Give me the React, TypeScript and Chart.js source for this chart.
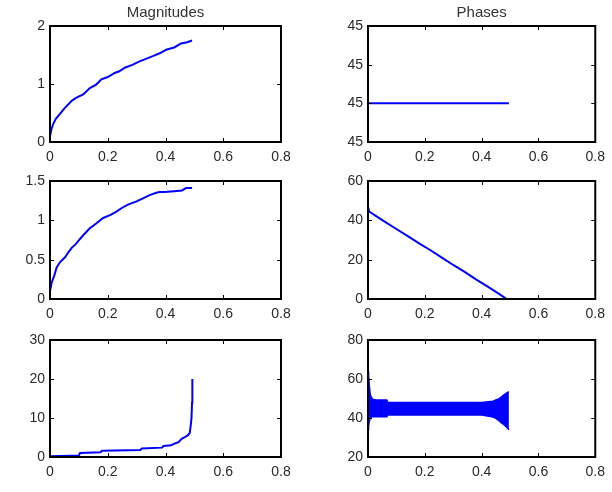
import React, { useEffect, useRef } from "react";
import { Chart, registerables } from "chart.js";

Chart.register(...registerables);

// ---------- data ----------
const X_TICKS = [0, 0.2, 0.4, 0.6, 0.8];
const X_LABELS = ["0", "0.2", "0.4", "0.6", "0.8"];

// Magnitudes, row 1
const MAG1_X = [0, 0.005, 0.011, 0.02, 0.034, 0.05, 0.075, 0.09, 0.115, 0.138, 0.16, 0.178, 0.2, 0.224, 0.24, 0.259, 0.285, 0.31, 0.33, 0.356, 0.38, 0.402, 0.43, 0.454, 0.475, 0.492];
const MAG1_Y = [0.1, 0.22, 0.31, 0.4, 0.48, 0.58, 0.71, 0.76, 0.82, 0.93, 0.99, 1.08, 1.12, 1.19, 1.22, 1.28, 1.33, 1.39, 1.43, 1.48, 1.53, 1.59, 1.63, 1.7, 1.72, 1.75];
const MAG1_YTICKS = [0, 1, 2];
const MAG1_YLABELS = ["0", "1", "2"];

// Magnitudes, row 2
const MAG2_X = [0, 0.006, 0.015, 0.023, 0.035, 0.052, 0.065, 0.075, 0.09, 0.103, 0.12, 0.138, 0.16, 0.184, 0.21, 0.23, 0.25, 0.27, 0.3, 0.322, 0.345, 0.368, 0.38, 0.397, 0.43, 0.457, 0.471, 0.492];
const MAG2_Y = [0.1, 0.21, 0.3, 0.4, 0.47, 0.53, 0.6, 0.65, 0.7, 0.76, 0.83, 0.9, 0.96, 1.03, 1.07, 1.11, 1.16, 1.2, 1.24, 1.28, 1.32, 1.35, 1.36, 1.36, 1.37, 1.38, 1.41, 1.41];
const MAG2_YTICKS = [0, 0.5, 1, 1.5];
const MAG2_YLABELS = ["0", "0.5", "1", "1.5"];

// Magnitudes, row 3
const MAG3_X = [0, 0.1, 0.104, 0.175, 0.18, 0.313, 0.318, 0.388, 0.393, 0.42, 0.43, 0.445, 0.455, 0.465, 0.478, 0.484, 0.488, 0.49, 0.492, 0.493];
const MAG3_Y = [0.2, 0.4, 1.0, 1.2, 1.6, 1.8, 2.2, 2.4, 2.8, 3.0, 3.4, 3.8, 4.6, 5.0, 5.6, 6.2, 8.5, 10, 14, 20];
const MAG3_YTICKS = [0, 10, 20, 30];
const MAG3_YLABELS = ["0", "10", "20", "30"];

// Phases, row 1
const PH1_X = [0, 0.496];
const PH1_Y = [45, 45];
const PH1_YTICKS = [44.999, 45, 45.001, 45.002];
const PH1_YLABELS = ["45", "45", "45", "45"];

// Phases, row 2
const PH2_X = [0, 0.004, 0.03, 0.06, 0.1, 0.14, 0.18, 0.22, 0.26, 0.3, 0.34, 0.38, 0.42, 0.46, 0.488];
const PH2_Y = [47, 44.5, 42, 39.2, 35.6, 32.0, 28.3, 24.8, 21.0, 17.3, 13.8, 10.0, 6.4, 2.7, 0];
const PH2_YTICKS = [0, 20, 40, 60];
const PH2_YLABELS = ["0", "20", "40", "60"];

// Phases, row 3 (oscillating band: upper and lower envelopes)
const PH3_X = [0, 0.002, 0.005, 0.008, 0.012, 0.018, 0.03, 0.066, 0.07, 0.2, 0.3, 0.4, 0.44, 0.45, 0.46, 0.47, 0.48, 0.49, 0.496];
const PH3_HI = [64, 62, 56, 52, 50.5, 49.5, 49.2, 49.2, 48, 48, 48, 48, 48.6, 49.2, 49.8, 50.8, 52, 53, 53.5];
const PH3_LO = [34, 36, 38.5, 40, 40.5, 40.7, 40.7, 40.7, 41.5, 41.5, 41.5, 41.5, 40.5, 39.8, 38.8, 37.5, 36.4, 35, 34];
const PH3_YTICKS = [20, 40, 60, 80];
const PH3_YLABELS = ["20", "40", "60", "80"];

const TITLES = ["Magnitudes", "Phases"];

// ---------- helpers ----------
const BLUE = "#0000ff";
const FONT = "'Liberation Sans', Arial, Helvetica, sans-serif";
const LABEL_COLOR = "#2a2a2a";

const pts = (xs: number[], ys: number[]) => xs.map((x, i) => ({ x, y: ys[i] }));

const boxPlugin = {
  id: "matlabBox",
  afterDraw(chart: any, _args: any, opts: any) {
    const { ctx, chartArea } = chart;
    const { left, right, top, bottom } = chartArea;
    const xs = chart.scales.x;
    const ys = chart.scales.y;
    ctx.save();
    ctx.strokeStyle = "#000";
    ctx.lineWidth = 1;
    const tl = 4;
    ctx.beginPath();
    for (const t of xs.ticks) {
      const p = Math.round(xs.getPixelForValue(t.value)) + 0.5;
      ctx.moveTo(p, bottom);
      ctx.lineTo(p, bottom - tl);
      ctx.moveTo(p, top);
      ctx.lineTo(p, top + tl);
    }
    for (const t of ys.ticks) {
      const p = Math.round(ys.getPixelForValue(t.value)) + 0.5;
      ctx.moveTo(left, p);
      ctx.lineTo(left + tl, p);
      ctx.moveTo(right, p);
      ctx.lineTo(right - tl, p);
    }
    ctx.stroke();
    ctx.lineWidth = 2;
    ctx.strokeRect(left, top, right - left, bottom - top);
    if (opts && opts.title) {
      ctx.fillStyle = "#333";
      ctx.font = `15px ${FONT}`;
      ctx.textAlign = "center";
      ctx.textBaseline = "middle";
      ctx.fillText(opts.title, (left + right) / 2, top - 13);
    }
    ctx.restore();
  },
};

type SubProps = {
  left: number;
  top: number;
  width: number;
  height: number;
  padTop: number;
  padRight: number;
  yWidth: number;
  xHeight: number;
  datasets: any[];
  yMin: number;
  yMax: number;
  yTicks: number[];
  yLabels: string[];
  title?: string;
};

function Subplot(p: SubProps) {
  const ref = useRef<HTMLCanvasElement | null>(null);
  useEffect(() => {
    if (!ref.current) return;
    const font = { family: FONT, size: 14 };
    const chart = new Chart(ref.current, {
      type: "line",
      data: { datasets: p.datasets },
      plugins: [boxPlugin],
      options: {
        animation: false,
        responsive: false,
        devicePixelRatio: 1,
        layout: { padding: { top: p.padTop, right: p.padRight, left: 0, bottom: 0 } },
        plugins: {
          legend: { display: false },
          tooltip: { enabled: false },
          title: { display: false },
          matlabBox: { title: p.title },
        } as any,
        elements: { point: { radius: 0 }, line: { tension: 0 } },
        scales: {
          x: {
            type: "linear",
            min: 0,
            max: 0.8,
            afterBuildTicks: (s: any) => {
              s.ticks = X_TICKS.map((v) => ({ value: v }));
            },
            afterFit: (s: any) => {
              s.height = p.xHeight;
            },
            ticks: {
              font,
              color: LABEL_COLOR,
              padding: 7,
              maxRotation: 0,
              autoSkip: false,
              callback: (_v: any, i: number) => X_LABELS[i],
            },
            grid: { display: false, drawTicks: false },
            border: { display: false },
          },
          y: {
            type: "linear",
            min: p.yMin,
            max: p.yMax,
            afterBuildTicks: (s: any) => {
              s.ticks = p.yTicks.map((v) => ({ value: v }));
            },
            afterFit: (s: any) => {
              s.width = p.yWidth;
            },
            ticks: {
              font,
              color: LABEL_COLOR,
              padding: 5,
              autoSkip: false,
              callback: (_v: any, i: number) => p.yLabels[i],
            },
            grid: { display: false, drawTicks: false },
            border: { display: false },
          },
        },
      } as any,
    });
    return () => chart.destroy();
  }, []);
  return (
    <canvas
      ref={ref}
      width={p.width}
      height={p.height}
      style={{ position: "absolute", left: p.left, top: p.top, width: p.width, height: p.height, display: "block" }}
    />
  );
}

const line = (xs: number[], ys: number[]) => ({
  data: pts(xs, ys),
  borderColor: BLUE,
  borderWidth: 2,
  fill: false,
  pointRadius: 0,
});

export default function App() {
  const rows = [
    { top: 0, height: 165, padTop: 26, xHeight: 23 },
    { top: 165, height: 160, padTop: 16, xHeight: 26 },
    { top: 325, height: 167, padTop: 15, xHeight: 35 },
  ];
  const leftCol = { left: 0, width: 300, yWidth: 50, padRight: 19 };
  const rightCol = { left: 300, width: 312, yWidth: 68, padRight: 14 };

  const band = [
    { data: pts(PH3_X, PH3_LO), borderColor: BLUE, borderWidth: 1.5, fill: false, pointRadius: 0 },
    { data: pts(PH3_X, PH3_HI), borderColor: BLUE, borderWidth: 1.5, backgroundColor: BLUE, fill: "-1", pointRadius: 0 },
  ];

  return (
    <div style={{ position: "absolute", left: 0, top: 0, width: 612, height: 492, background: "#fff" }}>
      <Subplot {...leftCol} {...rows[0]} title={TITLES[0]} datasets={[line(MAG1_X, MAG1_Y)]} yMin={0} yMax={2} yTicks={MAG1_YTICKS} yLabels={MAG1_YLABELS} />
      <Subplot {...rightCol} {...rows[0]} title={TITLES[1]} datasets={[line(PH1_X, PH1_Y)]} yMin={44.999} yMax={45.002} yTicks={PH1_YTICKS} yLabels={PH1_YLABELS} />
      <Subplot {...leftCol} {...rows[1]} datasets={[line(MAG2_X, MAG2_Y)]} yMin={0} yMax={1.5} yTicks={MAG2_YTICKS} yLabels={MAG2_YLABELS} />
      <Subplot {...rightCol} {...rows[1]} datasets={[line(PH2_X, PH2_Y)]} yMin={0} yMax={60} yTicks={PH2_YTICKS} yLabels={PH2_YLABELS} />
      <Subplot {...leftCol} {...rows[2]} datasets={[line(MAG3_X, MAG3_Y)]} yMin={0} yMax={30} yTicks={MAG3_YTICKS} yLabels={MAG3_YLABELS} />
      <Subplot {...rightCol} {...rows[2]} datasets={band} yMin={20} yMax={80} yTicks={PH3_YTICKS} yLabels={PH3_YLABELS} />
    </div>
  );
}
